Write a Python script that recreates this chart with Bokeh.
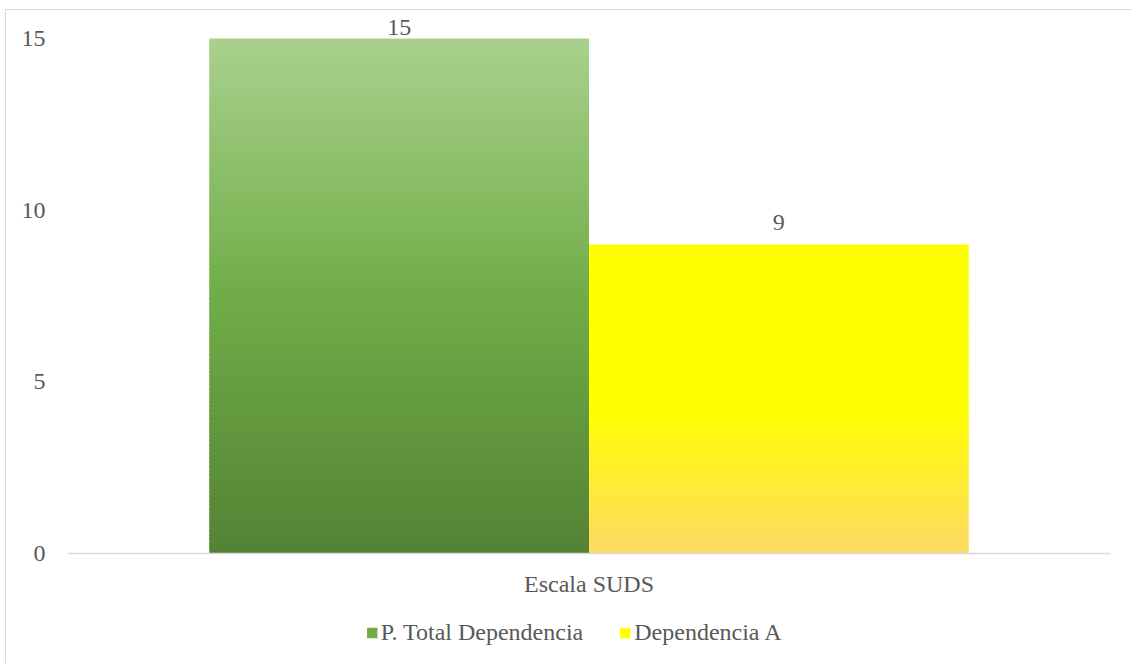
from bokeh.plotting import figure
from bokeh.models import ColumnDataSource, FactorRange, Range1d, FixedTicker, Legend, LegendItem
from bokeh.transform import dodge
from bokeh.core.properties import value
from bokeh.embed import file_html
from bokeh.resources import INLINE

# ---- data ----
categories = ["Escala SUDS"]
series = ["P. Total Dependencia", "Dependencia A"]
values = [15, 9]
y_ticks = [0, 5, 10, 15]

# ---- style ----
FONT = "'Liberation Serif', 'Times New Roman', serif"
TXT = "#595959"
LINE = "#d9d9d9"
FS = "24px"
gradients = [
    [(0.0, (84, 130, 53)), (0.5, (112, 173, 71)), (1.0, (169, 209, 142))],
    [(0.0, (255, 217, 102)), (0.47, (255, 255, 0)), (1.0, (255, 255, 0))],
]
offsets = [-0.182, 0.182]
bar_w = 0.364
label_offsets = [-11, -22]
N = 120


def interp(stops, t):
    for (t0, c0), (t1, c1) in zip(stops[:-1], stops[1:]):
        if t0 <= t <= t1:
            f = 0 if t1 == t0 else (t - t0) / (t1 - t0)
            c = [round(a + (b - a) * f) for a, b in zip(c0, c1)]
            return "#%02x%02x%02x" % tuple(c)
    return "#%02x%02x%02x" % stops[-1][1]


p = figure(
    x_range=FactorRange(*categories, range_padding=0),
    y_range=Range1d(-3.233, 15.757),
    width=1127, height=654,
    output_backend="svg", toolbar_location=None,
    min_border_left=61, min_border_right=23, min_border_top=2, min_border_bottom=0,
)
p.styles = {
    "margin-left": "5px", "margin-top": "9px",
    "border-left": "1px solid #d9d9d9", "border-top": "1px solid #d9d9d9",
}
p.outline_line_color = None
p.xgrid.visible = False
p.ygrid.visible = False

p.xaxis.fixed_location = 0
p.xaxis.axis_line_color = LINE
p.xaxis.axis_line_width = 1.3
p.xaxis.major_tick_line_color = None
p.xaxis.minor_tick_line_color = None
p.xaxis.major_label_text_font = FONT
p.xaxis.major_label_text_font_size = FS
p.xaxis.major_label_text_color = TXT
p.xaxis.major_label_standoff = 12

p.yaxis.axis_line_color = None
p.yaxis.major_tick_line_color = None
p.yaxis.minor_tick_line_color = None
p.yaxis.ticker = FixedTicker(ticks=y_ticks)
p.yaxis.major_label_text_font = FONT
p.yaxis.major_label_text_font_size = FS
p.yaxis.major_label_text_color = TXT
p.yaxis.major_label_standoff = 16

renderers = []
for i, v in enumerate(values):
    bottoms = [v * k / N for k in range(N)]
    tops = [min(v, v * (k + 1.6) / N) for k in range(N)]
    colors = [interp(gradients[i], (k + 0.5) / N) for k in range(N)]
    src = ColumnDataSource(dict(x=[categories[0]] * N, bottom=bottoms, top=tops, color=colors))
    r = p.vbar(x=dodge("x", offsets[i], range=p.x_range), width=bar_w, bottom="bottom", top="top",
               fill_color="color", line_color=None, source=src)
    renderers.append(r)
    lsrc = ColumnDataSource(dict(x=[categories[0]], y=[v], t=[str(v)]))
    p.text(x=dodge("x", offsets[i], range=p.x_range), y="y", text="t", source=lsrc,
           text_font=value(FONT), text_font_size=FS, text_color=TXT,
           text_align="center", text_baseline="middle", y_offset=label_offsets[i])

legend = Legend(
    items=[LegendItem(label=series[i], renderers=[renderers[i]], index=N // 2) for i in range(len(series))],
    orientation="horizontal", location="bottom_center",
    padding=0, margin=18, spacing=35, label_standoff=3, label_width=178,
    glyph_width=13, glyph_height=13,
    border_line_color=None, background_fill_alpha=0,
    label_text_font=FONT, label_text_font_size=FS, label_text_color=TXT,
)
p.add_layout(legend)

open("out.html", "w").write(file_html(p, INLINE))
